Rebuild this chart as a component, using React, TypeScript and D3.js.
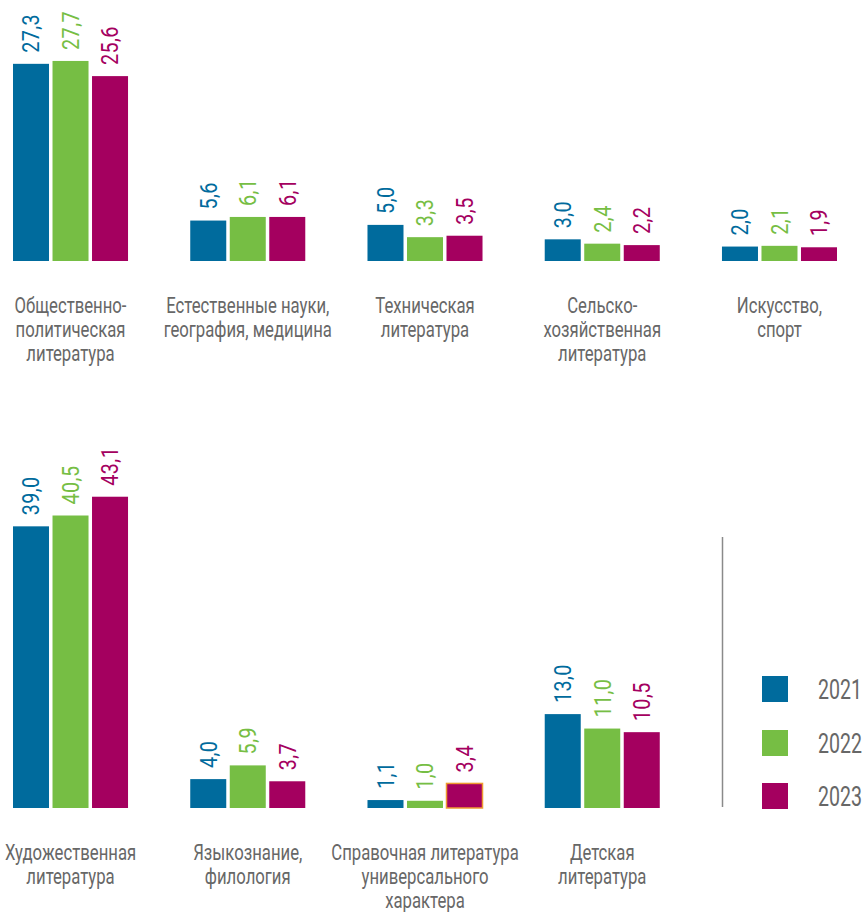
import React from "react";
import * as d3 from "d3";

const years = ["2021", "2022", "2023"];
const colors = ["#006B9D", "#76BE44", "#A4005F"];

const topCategories = [
  ["Общественно-", "политическая", "литература"],
  ["Естественные науки,", "география, медицина"],
  ["Техническая", "литература"],
  ["Сельско-", "хозяйственная", "литература"],
  ["Искусство,", "спорт"],
];
const top2021 = [27.3, 5.6, 5.0, 3.0, 2.0];
const top2022 = [27.7, 6.1, 3.3, 2.4, 2.1];
const top2023 = [25.6, 6.1, 3.5, 2.2, 1.9];

const bottomCategories = [
  ["Художественная", "литература"],
  ["Языкознание,", "филология"],
  ["Справочная литература", "универсального", "характера"],
  ["Детская", "литература"],
];
const bottom2021 = [39.0, 4.0, 1.1, 13.0];
const bottom2022 = [40.5, 5.9, 1.0, 11.0];
const bottom2023 = [43.1, 3.7, 3.4, 10.5];

const FONT = "Roboto, 'Noto Sans', sans-serif";
const fmt = (v: number) => d3.format(".1f")(v).replace(".", ",");

const W = 865;
const H = 912;

const xGroup = d3.scaleBand<number>().domain([0, 1, 2, 3, 4]).range([13, 837]).paddingInner(0.351).paddingOuter(0);
const xInner = d3.scaleBand<number>().domain([0, 1, 2]).range([0, xGroup.bandwidth()]).paddingInner(0.0886).paddingOuter(0);
const hScale = d3.scaleLinear().domain([0, 45]).range([0, 325]);

const VAL_SX = 0.86;
const CAT_SX = 0.76;
const LEG_SX = 0.7;

function Row({ cats, series, baseline, highlight }: { cats: string[][]; series: number[][]; baseline: number; highlight?: [number, number] }) {
  return (
    <g>
      {cats.map((lines, gi) => {
        const gx = xGroup(gi)!;
        const cx = gx + xGroup.bandwidth() / 2;
        return (
          <g key={gi}>
            {series.map((vals, si) => {
              const v = vals[gi];
              const h = hScale(v);
              const x = gx + xInner(si)!;
              const bw = xInner.bandwidth();
              const isHl = highlight && highlight[0] === gi && highlight[1] === si;
              return (
                <g key={si}>
                  <rect
                    x={x}
                    y={baseline - h}
                    width={bw}
                    height={h}
                    fill={colors[si]}
                    stroke={isHl ? "#EE9B30" : "none"}
                    strokeWidth={isHl ? 1.5 : 0}
                  />
                  <text
                    transform={`translate(${x + bw / 2},${baseline - h - 11}) rotate(-90) scale(${VAL_SX},1)`}
                    dy="0.36em"
                    textAnchor="start"
                    fill={colors[si]}
                    fontSize={23}
                    fontFamily={FONT}
                    letterSpacing={0.5}
                  >
                    {fmt(v)}
                  </text>
                </g>
              );
            })}
            <g transform={`translate(${cx},${baseline + 52}) scale(${CAT_SX},1)`}>
              <text textAnchor="middle" fill="#676767" fontSize={22} fontFamily={FONT}>
                {lines.map((l, li) => (
                  <tspan key={li} x={0} y={li * 24}>
                    {l}
                  </tspan>
                ))}
              </text>
            </g>
          </g>
        );
      })}
    </g>
  );
}

export default function App() {
  const legendX = 762;
  const legendY = [676, 730, 783];
  return (
    <svg width={W} height={H} style={{ position: "absolute", left: 0, top: 0, background: "#fff" }}>
      <Row cats={topCategories} series={[top2021, top2022, top2023]} baseline={261} />
      <Row cats={bottomCategories} series={[bottom2021, bottom2022, bottom2023]} baseline={808} highlight={[2, 2]} />
      <line x1={722.5} x2={722.5} y1={537} y2={807} stroke="#8a8a8a" strokeWidth={1.5} />
      {years.map((y, i) => (
        <g key={y}>
          <rect x={legendX} y={legendY[i]} width={26} height={26} fill={colors[i]} />
          <g transform={`translate(818,${legendY[i] + 13}) scale(${LEG_SX},1)`}>
            <text dy="0.36em" fill="#676767" fontSize={28} fontFamily={FONT}>
              {y}
            </text>
          </g>
        </g>
      ))}
    </svg>
  );
}
